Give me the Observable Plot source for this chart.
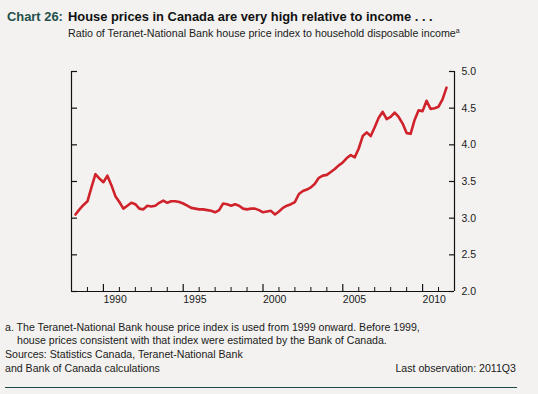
<!DOCTYPE html>
<html>
<head>
<meta charset="utf-8">
<script src="https://cdn.jsdelivr.net/npm/d3@7"></script>
<script src="https://cdn.jsdelivr.net/npm/@observablehq/plot@0.6"></script>
<style>
  html, body { margin: 0; padding: 0; }
  body { width: 538px; height: 394px; background: #f3f2f0; position: relative; overflow: hidden;
         font-family: "Liberation Sans", Arial, sans-serif; color: #1a1a1a; }
  .abs { position: absolute; white-space: nowrap; }
  #title { left: 7px; top: 9px; font-size: 12.9px; font-weight: bold; line-height: 16px; }
  #title .num { color: #24504b; }
  #title .txt { position: absolute; left: 61px; color: #111; }
  #subtitle { left: 68px; top: 27px; font-size: 10.7px; line-height: 13px; }
  #subtitle sup { font-size: 7px; vertical-align: 4px; line-height: 0; }
  .foot { font-size: 10.6px; line-height: 13px; }
  #chart { position: absolute; left: 0; top: 50px; }
  #rule { position: absolute; left: 5px; top: 387px; width: 512px; height: 0; border-top: 1px solid #1f4a45; }
</style>
</head>
<body>
<div id="title" class="abs"><span class="num">Chart 26:</span><span class="txt">House prices in Canada are very high relative to income . . .</span></div>
<div id="subtitle" class="abs">Ratio of Teranet-National Bank house price index to household disposable income<sup>a</sup></div>
<div id="chart"></div>
<div class="abs foot" style="left:5px; top:321px;">a. The Teranet-National Bank house price index is used from 1999 onward. Before 1999,</div>
<div class="abs foot" style="left:17px; top:334px;">house prices consistent with that index were estimated by the Bank of Canada.</div>
<div class="abs foot" style="left:5px; top:348px;">Sources: Statistics Canada, Teranet-National Bank</div>
<div class="abs foot" style="left:5px; top:362px;">and Bank of Canada calculations</div>
<div class="abs foot" style="right:22px; top:362px;">Last observation: 2011Q3</div>
<div id="rule"></div>
<script>
// Data: quarterly ratio, from 1988Q2 to 2011Q3
const firstYear = 1988;
const firstQuarter = 2;
const ratio = [
  3.05, 3.12, 3.18,            // 1988 Q2-Q4
  3.23, 3.42, 3.60, 3.54,      // 1989
  3.49, 3.58, 3.45, 3.30,      // 1990
  3.22, 3.13, 3.17, 3.21,      // 1991
  3.19, 3.13, 3.12, 3.17,      // 1992
  3.16, 3.17, 3.21, 3.24,      // 1993
  3.21, 3.23, 3.23, 3.22,      // 1994
  3.20, 3.17, 3.14, 3.13,      // 1995
  3.12, 3.12, 3.11, 3.10,      // 1996
  3.08, 3.11, 3.20, 3.19,      // 1997
  3.17, 3.19, 3.17, 3.13,      // 1998
  3.12, 3.13, 3.13, 3.11,      // 1999
  3.08, 3.09, 3.10, 3.05,      // 2000
  3.09, 3.14, 3.17, 3.19,      // 2001
  3.22, 3.33, 3.37, 3.39,      // 2002
  3.42, 3.47, 3.55, 3.58,      // 2003
  3.59, 3.63, 3.67, 3.72,      // 2004
  3.76, 3.82, 3.86, 3.83,      // 2005
  3.95, 4.12, 4.17, 4.12,      // 2006
  4.24, 4.37, 4.45, 4.35,      // 2007
  4.38, 4.44, 4.38, 4.29,      // 2008
  4.16, 4.15, 4.34, 4.47,      // 2009
  4.46, 4.60, 4.49, 4.50,      // 2010
  4.52, 4.62, 4.78             // 2011 Q1-Q3
];
const xDomain = [1988, 2012];
const yDomain = [2, 5];
const tickYears = d3.range(1989, 2012);
const majorYears = [1990, 1995, 2000, 2005, 2010];
const yTicks = [2.0, 2.5, 3.0, 3.5, 4.0, 4.5, 5.0];

const data = ratio.map((v, i) => {
  const q = firstQuarter - 1 + i;
  return { t: firstYear + Math.floor(q / 4) + (q % 4) / 4, v };
});

const W = 538, H = 260, mt = 21, mb = 19, ml = 71, mr = 84;
const innerH = H - mt - mb, innerW = W - ml - mr;
const minorYears = tickYears.filter(y => !majorYears.includes(y));

const chart = Plot.plot({
  width: W, height: H,
  marginTop: mt, marginBottom: mb, marginLeft: ml, marginRight: mr,
  style: { background: "transparent", fontFamily: "Liberation Sans, Arial, sans-serif", fontSize: "10.5px", color: "#1a1a1a", overflow: "visible" },
  x: { domain: xDomain, axis: null },
  y: { domain: yDomain, axis: null },
  marks: [
    Plot.ruleY([yDomain[0]], { stroke: "#111", strokeWidth: 1.2 }),
    Plot.ruleX(xDomain, { stroke: "#111", strokeWidth: 1.2 }),
    Plot.tickX(minorYears, { x: d => d, insetTop: innerH - 4, stroke: "#111", strokeWidth: 1 }),
    Plot.tickX(majorYears, { x: d => d, insetTop: innerH - 7, stroke: "#111", strokeWidth: 1.2 }),
    Plot.tickY(yTicks, { y: d => d, insetRight: innerW - 6, stroke: "#111", strokeWidth: 1.2 }),
    Plot.tickY(yTicks, { y: d => d, insetLeft: innerW - 5, stroke: "#111", strokeWidth: 1.2 }),
    Plot.text(majorYears, { x: d => d, frameAnchor: "bottom", dy: 11, dx: 0, textAnchor: "start", text: d => String(d), fill: "#1a1a1a" }),
    Plot.text(yTicks, { y: d => d, frameAnchor: "right", dx: 7, textAnchor: "start", text: d => d.toFixed(1), fill: "#1a1a1a" }),
    Plot.line(data, { x: "t", y: "v", stroke: "#d0222a", strokeWidth: 2.6, strokeLinejoin: "round", strokeLinecap: "round" })
  ]
});
document.getElementById("chart").appendChild(chart);
</script>
</body>
</html>
